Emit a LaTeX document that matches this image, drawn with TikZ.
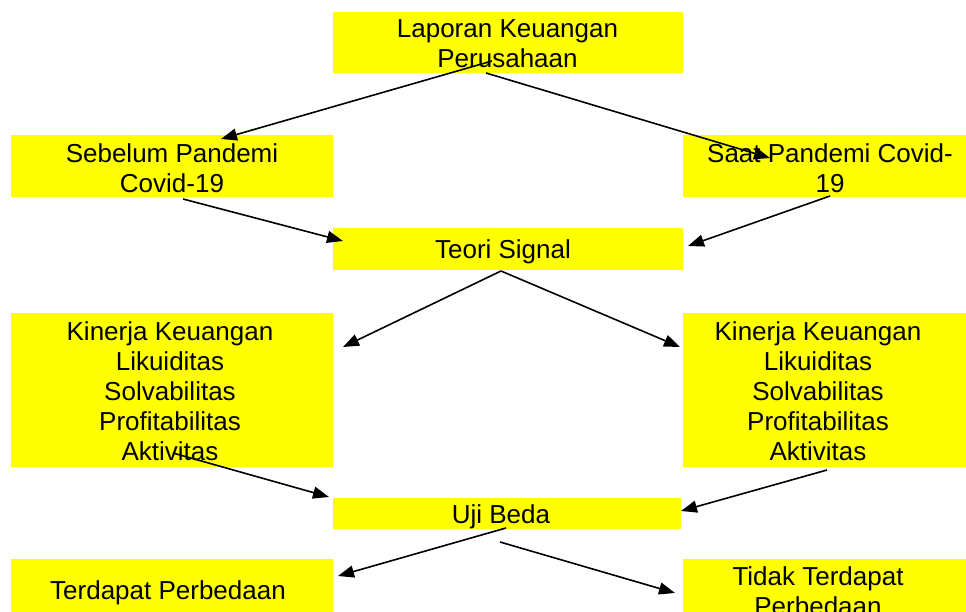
\documentclass[tikz,border=0pt]{standalone}
\usepackage{fontspec}
\setmainfont{Liberation Sans}
\usetikzlibrary{arrows.meta}
\definecolor{boxyellow}{RGB}{255,255,0}
\tikzset{
  boxfill/.style={fill=boxyellow, draw=none, inner sep=0pt},
  lbl/.style={font=\fontsize{26}{30}\selectfont, align=center, inner sep=0pt, text=black},
  conn/.style={line width=1.6pt, -{Triangle[length=16pt,width=12pt]}}
}
\begin{document}
\begin{tikzpicture}[x=1pt,y=-1pt]
\useasboundingbox (0,0) rectangle (966,612);
\clip (0,0) rectangle (966,612);
\fill[white] (0,0) rectangle (966,612);
% boxes
\node[boxfill, minimum width=350pt, minimum height=61pt] (btop) at (508,42.5) {};
\node[boxfill, minimum width=322pt, minimum height=62pt] (bsb) at (172,166) {};
\node[boxfill, minimum width=300pt, minimum height=62pt] (bsa) at (833,166) {};
\node[boxfill, minimum width=350pt, minimum height=42pt] (bts) at (508,249) {};
\node[boxfill, minimum width=322pt, minimum height=154pt] (bk1) at (172,390) {};
\node[boxfill, minimum width=300pt, minimum height=154pt] (bk2) at (833,390) {};
\node[boxfill, minimum width=348pt, minimum height=31pt] (bub) at (507,513.5) {};
\node[boxfill, minimum width=322pt, minimum height=70pt] (btp) at (172,594) {};
\node[boxfill, minimum width=300pt, minimum height=70pt] (btt) at (833,594) {};
% texts
\node[lbl] (ttop) at (507.5,44) {Laporan Keuangan\\Perusahaan};
\node[lbl] (tsb) at (172,168) {Sebelum Pandemi\\Covid-19};
\node[lbl] (tsa) at (830,168.5) {Saat Pandemi Covid-\\19};
\node[lbl] (tts) at (503,252) {Teori Signal};
\node[lbl] (tk1) at (170,391) {Kinerja Keuangan\\Likuiditas\\Solvabilitas\\Profitabilitas\\Aktivitas};
\node[lbl] (tk2) at (818,391) {Kinerja Keuangan\\Likuiditas\\Solvabilitas\\Profitabilitas\\Aktivitas};
\node[lbl] (tub) at (501,517) {Uji Beda};
\node[lbl] (ttp) at (168,593) {Terdapat Perbedaan};
\node[lbl] (ttt) at (818,591) {Tidak Terdapat\\Perbedaan};
% connector end points
\coordinate (c1s) at (492,61);   \coordinate (c1e) at (221,139);
\coordinate (c2s) at (486,73);   \coordinate (c2e) at (770,158);
\coordinate (c3s) at (183,199);  \coordinate (c3e) at (343,241);
\coordinate (c4s) at (830,196);  \coordinate (c4e) at (688,246);
\coordinate (c5s) at (501,271);  \coordinate (c5e) at (343,347);
\coordinate (c6e) at (680,347);
\coordinate (c7s) at (173,453);  \coordinate (c7e) at (329,497);
\coordinate (c8s) at (827,470);  \coordinate (c8e) at (681,511);
\coordinate (c9s) at (506,528);  \coordinate (c9e) at (338,576);
\coordinate (c10s) at (500,542); \coordinate (c10e) at (675,593);
% connectors
\draw[conn] (c1s) -- (c1e);
\draw[conn] (c2s) -- (c2e);
\draw[conn] (c3s) -- (c3e);
\draw[conn] (c4s) -- (c4e);
\draw[conn] (c5s) -- (c5e);
\draw[conn] (c5s) -- (c6e);
\draw[conn] (c7s) -- (c7e);
\draw[conn] (c8s) -- (c8e);
\draw[conn] (c9s) -- (c9e);
\draw[conn] (c10s) -- (c10e);
\end{tikzpicture}
\end{document}
